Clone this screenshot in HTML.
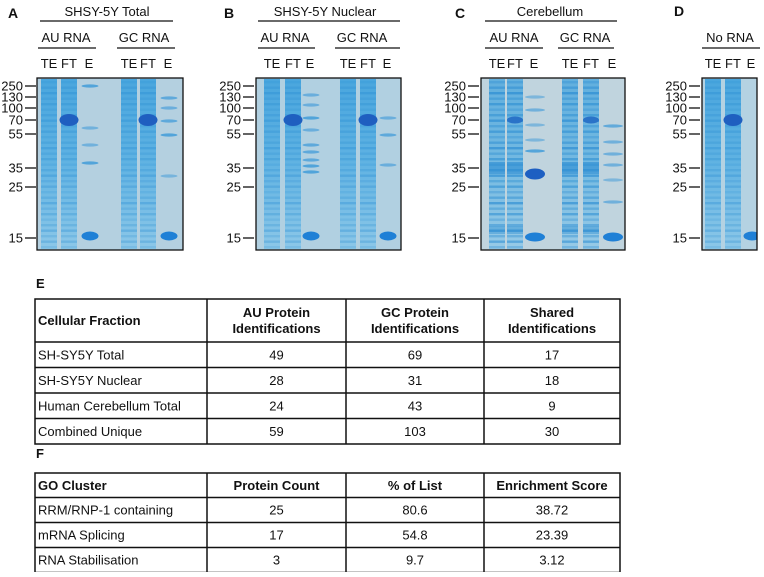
<!DOCTYPE html>
<html><head><meta charset="utf-8">
<style>
body{margin:0;background:#fff;width:764px;height:572px;overflow:hidden;font-family:"Liberation Sans",Arial,sans-serif;}
svg text{font-family:"Liberation Sans",Arial,sans-serif;fill:#111;}
</style></head>
<body>
<svg id="fig" width="764" height="572" viewBox="0 0 764 572">
<defs>
<linearGradient id="laneGrad" x1="0" y1="0" x2="0" y2="1">
<stop offset="0" stop-color="#4aa6de"/><stop offset="0.45" stop-color="#5db1e2"/><stop offset="1" stop-color="#8cc7e8"/>
</linearGradient>
<linearGradient id="gelBg" x1="0" y1="0" x2="1" y2="1">
<stop offset="0" stop-color="#b2d1e3"/><stop offset="1" stop-color="#bcd3df"/>
</linearGradient>
</defs>
<g id="gels"></g>
<g id="tables"></g>
</svg>
<script>
const markerLabels = ["250","130","100","70","55","35","25","15"];
const markerY = [86,97,108,120,134,168,187,238];
const panelLetters = ["A","B","C","D"];
const panelTitles = ["SHSY-5Y Total","SHSY-5Y Nuclear","Cerebellum",""];
const laneNames = ["TE","FT","E"];
const eBandsA = [[86,0.5],[128,0.25],[145,0.25],[163,0.5],[236,1]];
const eBandsAgc = [[98,0.4],[108,0.3],[121,0.4],[135,0.5],[176,0.2],[236,1]];
const eBandsB = [[95,0.3],[105,0.3],[118,0.5],[130,0.3],[145,0.4],[152,0.4],[160,0.4],[166,0.5],[172,0.5],[236,1]];
const eBandsBgc = [[118,0.3],[135,0.4],[165,0.3],[236,1]];
const eBandsC = [[97,0.2],[110,0.3],[125,0.2],[140,0.2],[151,0.5],[174,1],[237,1]];
const eBandsCgc = [[126,0.4],[142,0.3],[154,0.3],[165,0.3],[180,0.2],[202,0.3],[237,1]];
const eBandsD = [[236,1]];

const gels = [
 {x0:37,x1:183,letterX:8,titleCX:107,titleL:40,titleR:173,bg:"#b4d0e0",
  groups:[{name:"AU RNA",cx:66,l:38,r:96,lanes:[49,69,89],e:eBandsA},{name:"GC RNA",cx:144,l:117,r:175,lanes:[129,148,168],e:eBandsAgc}],markX:36},
 {x0:256,x1:401,letterX:224,titleCX:325,titleL:258,titleR:400,bg:"#b1d0e1",
  groups:[{name:"AU RNA",cx:285,l:258,r:315,lanes:[272,293,310],e:eBandsB},{name:"GC RNA",cx:362,l:335,r:400,lanes:[348,368,387],e:eBandsBgc}],markX:254},
 {x0:481,x1:625,letterX:455,titleCX:550,titleL:485,titleR:617,bg:"#c0d4de",
  groups:[{name:"AU RNA",cx:514,l:485,r:543,lanes:[497,515,534],e:eBandsC},{name:"GC RNA",cx:585,l:558,r:614,lanes:[570,591,612],e:eBandsCgc}],markX:479},
 {x0:702,x1:757,letterX:674,titleCX:0,titleL:0,titleR:0,bg:"#b4d2e2",
  groups:[{name:"No RNA",cx:730,l:702,r:760,lanes:[713,733,751],e:eBandsD}],markX:700}
];
const NS="http://www.w3.org/2000/svg";
function el(tag,attrs,parent){const e=document.createElementNS(NS,tag);for(const k in attrs)e.setAttribute(k,attrs[k]);parent.appendChild(e);return e;}
function txt(s,attrs,parent){const t=el("text",attrs,parent);t.textContent=s;return t;}
const G=document.getElementById("gels");
const gelTop=78,gelBottom=250;
gels.forEach((g,i)=>{
  const pg=el("g",{},G);
  
  
  const L=txt(panelLetters[i],{x:g.letterX,y:i==3?16:18,"font-size":14,"font-weight":"bold"},pg);
  
  
  if(panelTitles[i]){
    const t=txt(panelTitles[i],{x:g.titleCX,y:16,"font-size":13,"text-anchor":"middle"},pg);
    
    
    el("line",{x1:g.titleL,x2:g.titleR,y1:21,y2:21,stroke:"#111","stroke-width":1.3},pg);
  }
  const clipId="clip"+i;
  const cp=el("clipPath",{id:clipId},pg);
  el("rect",{x:g.x0,y:gelTop,width:g.x1-g.x0,height:gelBottom-gelTop},cp);
  const bg=el("rect",{x:g.x0,y:gelTop,width:g.x1-g.x0,height:gelBottom-gelTop,fill:g.bg},pg);
  
  
  const inner=el("g",{"clip-path":"url(#"+clipId+")"},pg);
  g.groups.forEach(gr=>{
    const gt=txt(gr.name,{x:gr.cx,y:42,"font-size":13,"text-anchor":"middle"},pg);
    
    
    el("line",{x1:gr.l,x2:gr.r,y1:48,y2:48,stroke:"#111","stroke-width":1.3},pg);
    gr.lanes.forEach((lx,j)=>{
      const lt=txt(laneNames[j],{x:lx,y:68,"font-size":13,"text-anchor":"middle"},pg);
      
      
      const w=16;
      if(j<2){
        const lane=el("rect",{x:lx-w/2,y:gelTop+1,width:w,height:gelBottom-gelTop-2,fill:"url(#laneGrad)",opacity:i==2?0.8:1},inner);
        
        
        let k=0;
        for(let y=gelTop+3;y<gelBottom-3;y+=5.5){
          const op=(i==2?0.55:0.3)*(0.5+0.5*((k*7)%5)/4);
          el("rect",{x:lx-w/2,y:y,width:w,height:2.4,fill:"#1e84cf",opacity:op},inner);
          k++;
        }
        if(i==2){
          el("rect",{x:lx-w/2,y:162,width:w,height:12,fill:"#1e84cf",opacity:0.5},inner);
          el("rect",{x:lx-w/2,y:226,width:w,height:8,fill:"#1e84cf",opacity:0.35},inner);
        }
        if(j==1 && i!=2){
          const b=el("ellipse",{cx:lx,cy:120,rx:w/2+1.5,ry:6,fill:"#1f5fc0"},inner);
          
          
        } else if(j==1){
          el("ellipse",{cx:lx,cy:120,rx:w/2,ry:3.5,fill:"#2a73c8"},inner);
        }
      } else {
        const ew=i==2?20:17;
        gr.e.forEach(b=>{
          const strong=b[1]>=1;
          const band=el("ellipse",{cx:lx+1,cy:b[0],rx:ew/2,ry:strong?(i==2&&b[0]<200?5.5:4.5):1.6,fill:strong?(i==2&&b[0]<200?"#1d5fc2":"#1f80d6"):"#3a98d8",opacity:strong?1:b[1]+0.3},inner);
          
          
        });
      }
    });
  });
  el("rect",{x:g.x0,y:gelTop,width:g.x1-g.x0,height:gelBottom-gelTop,fill:"none",stroke:"#111","stroke-width":1.3},pg);
  markerLabels.forEach((m,k)=>{
    el("line",{x1:g.markX-11,x2:g.markX,y1:markerY[k],y2:markerY[k],stroke:"#111","stroke-width":1.3},pg);
    const mt=txt(m,{x:g.markX-13,y:markerY[k]+4.5,"font-size":13,"text-anchor":"end"},pg);
    
    
  });
});

const colX=[35,207,346,484,620];
const tableEHead=[["Cellular Fraction"],["AU Protein","Identifications"],["GC Protein","Identifications"],["Shared","Identifications"]];
const tableERows=["SH-SY5Y Total","SH-SY5Y Nuclear","Human Cerebellum Total","Combined Unique"];
const tableEAU=["49","28","24","59"];
const tableEGC=["69","31","43","103"];
const tableEShared=["17","18","9","30"];
const tableFHead=["GO Cluster","Protein Count","% of List","Enrichment Score"];
const tableFRows=["RRM/RNP-1 containing","mRNA Splicing","RNA Stabilisation"];
const tableFCount=["25","17","3"];
const tableFPct=["80.6","54.8","9.7"];
const tableFScore=["38.72","23.39","3.12"];
const T=document.getElementById("tables");
function drawTable(name,letter,letterY,y0,headH,rowH,head,rows,cols){
  const tg=el("g",{},T);
  
  
  const lt=txt(letter,{x:36,y:letterY,"font-size":13,"font-weight":"bold"},tg);
  
  
  const n=rows.length, y1=y0+headH+n*rowH;
  el("rect",{x:colX[0],y:y0,width:colX[4]-colX[0],height:y1-y0,fill:"none",stroke:"#111","stroke-width":1.5},tg);
  for(let c=1;c<4;c++) el("line",{x1:colX[c],x2:colX[c],y1:y0,y2:y1,stroke:"#111","stroke-width":1.5},tg);
  for(let r=0;r<n;r++){const yy=y0+headH+r*rowH;el("line",{x1:colX[0],x2:colX[4],y1:yy,y2:yy,stroke:"#111","stroke-width":1.5},tg);}
  head.forEach((h,c)=>{
    const lines=Array.isArray(h)?h:[h];
    lines.forEach((s,li)=>{
      const cy=y0+headH/2+(li-(lines.length-1)/2)*16+4.5;
      const ht=txt(s,{x:c==0?colX[0]+3:(colX[c]+colX[c+1])/2,y:cy,"font-size":13,"font-weight":"bold","text-anchor":c==0?"start":"middle"},tg);
      
      
    });
  });
  rows.forEach((r,ri)=>{
    const cy=y0+headH+ri*rowH+rowH/2+4.5;
    const rt=txt(r,{x:colX[0]+3,y:cy,"font-size":13},tg);
    
    
    cols.forEach((arr,c)=>{
      const ct=txt(arr[ri],{x:(colX[c+1]+colX[c+2])/2,y:cy,"font-size":13,"text-anchor":"middle"},tg);
      
      
    });
  });
}
drawTable('protein-identification-table','E',288,299,43,25.5,tableEHead,tableERows,[tableEAU,tableEGC,tableEShared]);
drawTable('go-cluster-table','F',458,473,24.5,25,tableFHead,tableFRows,[tableFCount,tableFPct,tableFScore]);
</script>
</body></html>
